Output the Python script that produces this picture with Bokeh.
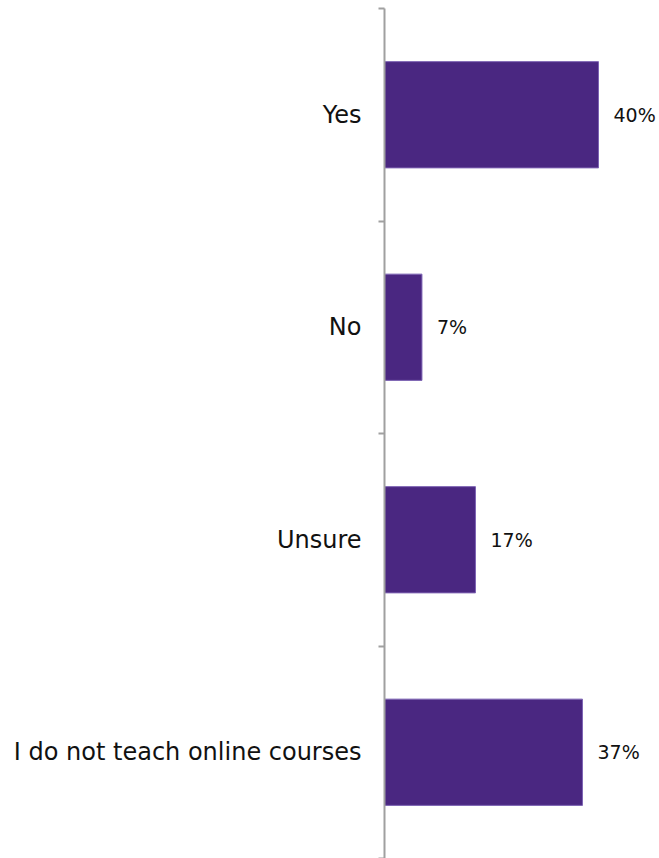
from bokeh.plotting import figure
from bokeh.models import Range1d, FixedTicker, ColumnDataSource, LabelSet
from bokeh.core.properties import value
from bokeh.embed import file_html
from bokeh.resources import INLINE

categories = ["Yes", "No", "Unsure", "I do not teach online courses"]
values = [40, 7, 17, 37]
value_labels = ["40%", "7%", "17%", "37%"]

n = len(categories)
ypos = [n - i - 0.5 for i in range(n)]

src = ColumnDataSource(dict(y=ypos, v=values, lab=value_labels))

p = figure(width=659, height=858, output_backend="svg", toolbar_location=None,
           x_range=Range1d(0, 51.4), y_range=Range1d(0, n),
           min_border_left=384, min_border_right=0, min_border_top=8, min_border_bottom=0)
p.outline_line_color = None
p.xgrid.visible = False
p.ygrid.visible = False
p.xaxis.visible = False

p.hbar(y="y", right="v", left=0, height=0.5, source=src,
       fill_color="#4a2781", line_color="#7d63b3", line_width=1)

labels = LabelSet(x="v", y="y", text="lab", source=src, x_offset=15, y_offset=0,
                  text_baseline="middle", text_align="left",
                  text_font=value("DejaVu Sans"), text_font_size="19px", text_color="#111111")
p.add_layout(labels)

ya = p.yaxis[0]
ya.ticker = FixedTicker(ticks=ypos, minor_ticks=list(range(n + 1)))
ya.major_label_overrides = {y: c for y, c in zip(ypos, categories)}
ya.major_tick_line_color = None
ya.major_tick_out = 0
ya.major_tick_in = 0
ya.minor_tick_line_color = "#a0a0a0"
ya.minor_tick_line_width = 2
ya.minor_tick_out = 6
ya.minor_tick_in = 0
ya.axis_line_color = "#a0a0a0"
ya.axis_line_width = 2
ya.major_label_standoff = 17
ya.major_label_text_font = "DejaVu Sans"
ya.major_label_text_font_size = "24px"
ya.major_label_text_color = "#111111"

open("out.html", "w").write(file_html(p, INLINE))
